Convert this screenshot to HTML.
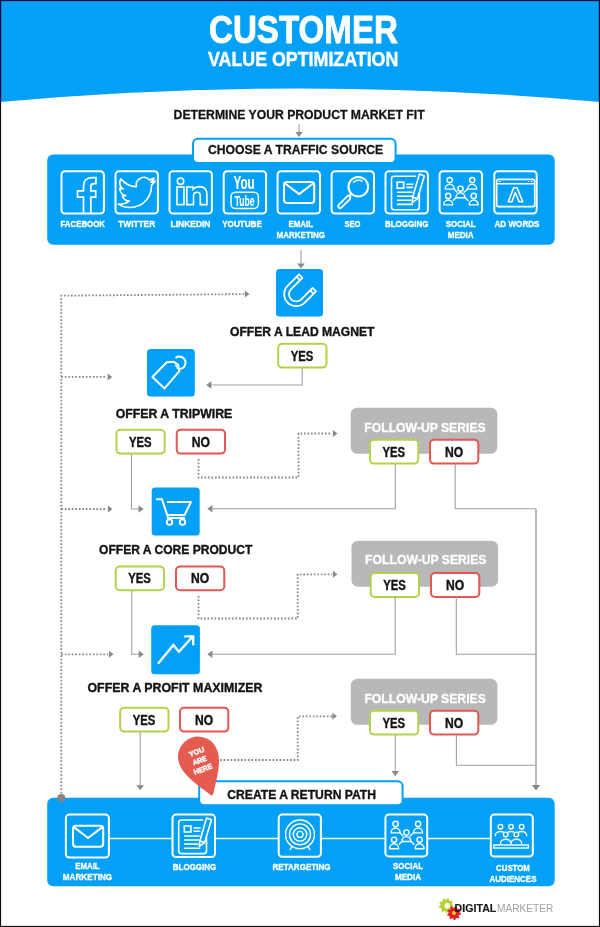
<!DOCTYPE html>
<html lang="en"><head><meta charset="utf-8"><title>Customer Value Optimization</title>
<style>html,body{margin:0;padding:0;background:#fff}svg{display:block;will-change:transform}text{font-family:"Liberation Sans",sans-serif}</style>
</head><body>
<svg width="600" height="927" viewBox="0 0 600 927">
<rect width="600" height="927" fill="#fff"/>
<path d="M0,0 H600 V102 Q300,75 0,102 Z" fill="#03a0f8"/>
<text x="209.0" y="43.3" font-size="38.8" font-weight="bold" fill="#fff" textLength="189.0" lengthAdjust="spacingAndGlyphs" stroke="#fff" stroke-width="0.9" stroke-linejoin="round">CUSTOMER</text>
<text x="208.0" y="65.5" font-size="19.6" font-weight="bold" fill="#fff" textLength="190.3" lengthAdjust="spacingAndGlyphs" stroke="#fff" stroke-width="0.45" stroke-linejoin="round">VALUE OPTIMIZATION</text>
<text x="173.6" y="118.5" font-size="13.3" font-weight="bold" fill="#141414" textLength="251.0" lengthAdjust="spacingAndGlyphs" stroke="#141414" stroke-width="0.3" stroke-linejoin="round">DETERMINE YOUR PRODUCT MARKET FIT</text>
<path d="M299,124 V132" fill="none" stroke="#a0a0a0" stroke-width="1.1"/>
<polygon points="299.0,137.0 295.4,132.1 302.6,132.1" fill="#8a8a8a"/>
<rect x="47.2" y="154.5" width="507.5" height="90.2" rx="6" fill="#03a0f8"/>
<rect x="193" y="138.8" width="202.6" height="24.2" rx="5" fill="#fff" stroke="#03a0f8" stroke-width="2"/>
<text x="208.0" y="154.3" font-size="13.4" font-weight="bold" fill="#141414" textLength="175.2" lengthAdjust="spacingAndGlyphs" stroke="#141414" stroke-width="0.3" stroke-linejoin="round">CHOOSE A TRAFFIC SOURCE</text>
<rect x="61.50" y="171.20" width="42.40" height="42.40" rx="3.5" fill="none" stroke="#fff" stroke-width="2"/>
<rect x="115.50" y="171.20" width="42.40" height="42.40" rx="3.5" fill="none" stroke="#fff" stroke-width="2"/>
<rect x="169.50" y="171.20" width="42.40" height="42.40" rx="3.5" fill="none" stroke="#fff" stroke-width="2"/>
<rect x="223.70" y="171.20" width="42.40" height="42.40" rx="3.5" fill="none" stroke="#fff" stroke-width="2"/>
<rect x="277.60" y="171.20" width="42.40" height="42.40" rx="3.5" fill="none" stroke="#fff" stroke-width="2"/>
<rect x="331.60" y="171.20" width="42.40" height="42.40" rx="3.5" fill="none" stroke="#fff" stroke-width="2"/>
<rect x="385.50" y="171.20" width="42.40" height="42.40" rx="3.5" fill="none" stroke="#fff" stroke-width="2"/>
<rect x="439.60" y="171.20" width="42.40" height="42.40" rx="3.5" fill="none" stroke="#fff" stroke-width="2"/>
<rect x="494.30" y="171.20" width="42.40" height="42.40" rx="3.5" fill="none" stroke="#fff" stroke-width="2"/>
<g transform="translate(60.5,170.2)" fill="none" stroke="#fff" stroke-width="1.7"><path d="M30.3,43.5 V27 H35.2 V20.7 H30.3 V17 Q30.3,13.5 33.3,13.5 H35.4 V7.5 H31.5 Q23,7.5 23,16.5 V20.7 H17 V27 H23 V43.5"/></g>
<g transform="translate(118.3,174) scale(1.54)" fill="none" stroke="#fff" stroke-width="1.05" stroke-linejoin="round"><path d="M23.953 4.57a10 10 0 01-2.825.775 4.958 4.958 0 002.163-2.723c-.951.555-2.005.959-3.127 1.184a4.92 4.92 0 00-8.384 4.482C7.69 8.095 4.067 6.13 1.64 3.162a4.822 4.822 0 00-.666 2.475c0 1.71.87 3.213 2.188 4.096a4.904 4.904 0 01-2.228-.616v.06a4.923 4.923 0 003.946 4.827 4.996 4.996 0 01-2.212.085 4.936 4.936 0 004.604 3.417 9.867 9.867 0 01-6.102 2.105c-.39 0-.779-.023-1.17-.067a13.995 13.995 0 007.557 2.209c9.053 0 13.998-7.496 13.998-13.985 0-.21 0-.42-.015-.63A9.935 9.935 0 0024 4.59z"/></g>
<g transform="translate(168.5,170.2)" fill="none" stroke="#fff" stroke-width="1.6"><circle cx="12" cy="11" r="3.2"/><rect x="8.5" y="16.8" width="7" height="17.6"/><path d="M18.3,34.4 V16.8 H24.6 V19 Q27,16.4 31,16.4 Q38.4,16.4 38.4,24.5 V34.4 H31.8 V25.5 Q31.8,22 28.5,22 Q25,22 25,25.5 V34.4 Z"/></g>
<g transform="translate(222.7,170.2)">
<text x="10.8" y="18.8" font-size="18" font-weight="bold" fill="#fff" textLength="21.2" lengthAdjust="spacingAndGlyphs" stroke="#fff" stroke-width="0.15" stroke-linejoin="round">You</text>
<rect x="8.3" y="22" width="27.4" height="16.3" rx="4.5" fill="none" stroke="#fff" stroke-width="1.4"/>
<text x="12.0" y="35.7" font-size="14.2" font-weight="bold" fill="#fff" textLength="19.8" lengthAdjust="spacingAndGlyphs" stroke="#fff" stroke-width="0.15" stroke-linejoin="round">Tube</text>
</g>
<g transform="translate(276.6,170.2)">
<rect x="7.4" y="11.8" width="30.2" height="21" rx="3" fill="none" stroke="#fff" stroke-width="2.1"/><path d="M9.2,13.8 L22.5,24 L35.8,13.8" fill="none" stroke="#fff" stroke-width="2.1" stroke-linejoin="round" stroke-linecap="round"/>
</g>
<g transform="translate(330.6,170.2)" fill="none" stroke="#fff" stroke-width="2"><circle cx="27.7" cy="16.5" r="9.8"/><path d="M23,12 A6.6,6.6 0 0 1 31.4,11" stroke-width="1.4" stroke-linecap="round"/><path d="M20.7,23.5 L18.6,25.8" stroke-width="2.4"/><path d="M16.66,26.16 L8.06,34.76 A1.9,1.9 0 0 0 10.74,37.44 L19.34,28.84 A1.9,1.9 0 0 0 16.66,26.16 Z" stroke-width="1.8"/></g>
<g transform="translate(384.5,170.2)">
<g fill="none" stroke="#fff" stroke-width="1.6"><path d="M31.6,6 H9.6 Q7,6 7,8.6 V37 Q7,39.6 9.6,39.6 H32.2 Q34.8,39.6 34.8,37 V23"/><rect x="12.6" y="12" width="6.6" height="6"/><path d="M21.8,14 H29 M21.8,17.2 H28.6 M12.4,22 H28 M12.4,26 H27.4 M12.4,30.1 H26.6 M12.4,34.2 H28.6"/><path d="M34.9,3.9 L39.8,5.7 L32.9,28.6 L28.2,26.8 Z M28.2,26.8 L27.6,32.4 L32.9,28.6" stroke-linejoin="round"/></g>
</g>
<g transform="translate(438.6,170.2)">
<g fill="none" stroke="#fff" stroke-width="1.4" stroke-linejoin="round"><circle cx="11.1" cy="9.9" r="2.6"/><path d="M6.6,18.9 A4.5,4.9 0 0 1 15.6,18.9 Z"/><circle cx="33.6" cy="9.9" r="2.6"/><path d="M29.1,18.9 A4.5,4.9 0 0 1 38.1,18.9 Z"/><circle cx="21.9" cy="18.5" r="2.6"/><path d="M17.4,27.5 A4.5,4.9 0 0 1 26.4,27.5 Z"/><circle cx="9.6" cy="25.7" r="2.6"/><path d="M5.1,34.7 A4.5,4.9 0 0 1 14.1,34.7 Z"/><circle cx="35.1" cy="25.7" r="2.6"/><path d="M30.6,34.7 A4.5,4.9 0 0 1 39.6,34.7 Z"/><path d="M15.8,19 L18.8,22.4 M28.8,19 L25.2,22.4 M17.6,27.2 L14.4,30.6 M26.4,27.2 L29.8,30.8"/></g>
</g>
<g transform="translate(493.3,170.2)" fill="none" stroke="#fff" stroke-width="1.6"><rect x="3.4" y="9.2" width="38" height="27.2" rx="1.8"/><path d="M3.4,13.6 H41.4"/><path d="M5.6,11.3 H7.4 M34.5,11.3 H36 M37.6,11.3 H39.2" stroke-width="1"/><path d="M15,31.6 L20.4,17.6 H23.8 L29.4,31.6 H25.8 L22,22.4 L18.6,31.6 Z" stroke-linejoin="round"/></g>
<text x="60.4" y="227.2" font-size="9.4" font-weight="bold" fill="#fff" textLength="44.6" lengthAdjust="spacingAndGlyphs" stroke="#fff" stroke-width="0.35" stroke-linejoin="round">FACEBOOK</text>
<text x="118.2" y="227.2" font-size="9.4" font-weight="bold" fill="#fff" textLength="37.0" lengthAdjust="spacingAndGlyphs" stroke="#fff" stroke-width="0.35" stroke-linejoin="round">TWITTER</text>
<text x="170.5" y="227.2" font-size="9.4" font-weight="bold" fill="#fff" textLength="40.0" lengthAdjust="spacingAndGlyphs" stroke="#fff" stroke-width="0.35" stroke-linejoin="round">LINKEDIN</text>
<text x="222.2" y="227.2" font-size="9.4" font-weight="bold" fill="#fff" textLength="39.7" lengthAdjust="spacingAndGlyphs" stroke="#fff" stroke-width="0.35" stroke-linejoin="round">YOUTUBE</text>
<text x="288.4" y="227.2" font-size="9.4" font-weight="bold" fill="#fff" textLength="24.8" lengthAdjust="spacingAndGlyphs" stroke="#fff" stroke-width="0.35" stroke-linejoin="round">EMAIL</text>
<text x="276.5" y="237.6" font-size="9.4" font-weight="bold" fill="#fff" textLength="48.6" lengthAdjust="spacingAndGlyphs" stroke="#fff" stroke-width="0.35" stroke-linejoin="round">MARKETING</text>
<text x="344.5" y="227.2" font-size="9.4" font-weight="bold" fill="#fff" textLength="16.0" lengthAdjust="spacingAndGlyphs" stroke="#fff" stroke-width="0.35" stroke-linejoin="round">SEO</text>
<text x="384.9" y="227.2" font-size="9.4" font-weight="bold" fill="#fff" textLength="43.5" lengthAdjust="spacingAndGlyphs" stroke="#fff" stroke-width="0.35" stroke-linejoin="round">BLOGGING</text>
<text x="445.7" y="227.2" font-size="9.4" font-weight="bold" fill="#fff" textLength="30.0" lengthAdjust="spacingAndGlyphs" stroke="#fff" stroke-width="0.35" stroke-linejoin="round">SOCIAL</text>
<text x="447.7" y="237.6" font-size="9.4" font-weight="bold" fill="#fff" textLength="26.0" lengthAdjust="spacingAndGlyphs" stroke="#fff" stroke-width="0.35" stroke-linejoin="round">MEDIA</text>
<text x="494.5" y="227.2" font-size="9.4" font-weight="bold" fill="#fff" textLength="45.0" lengthAdjust="spacingAndGlyphs" stroke="#fff" stroke-width="0.35" stroke-linejoin="round">AD WORDS</text>
<path d="M301,250 V264" fill="none" stroke="#a0a0a0" stroke-width="1.1"/>
<polygon points="301.0,268.5 297.2,263.4 304.8,263.4" fill="#8a8a8a"/>
<path d="M61.3,797 V295.7 L244,294.1" fill="none" stroke="#8a8a8a" stroke-width="1.8" stroke-dasharray="1.7 1.8"/>
<polygon points="249.5,294.1 244.8,290.6 244.8,297.6" fill="#8a8a8a"/>
<path d="M61.3,376.9 H107" fill="none" stroke="#8a8a8a" stroke-width="1.8" stroke-dasharray="1.7 1.8"/>
<polygon points="112.3,376.9 107.6,373.4 107.6,380.4" fill="#8a8a8a"/>
<path d="M61.3,509 H107" fill="none" stroke="#8a8a8a" stroke-width="1.8" stroke-dasharray="1.7 1.8"/>
<polygon points="112.6,509.0 107.9,505.5 107.9,512.5" fill="#8a8a8a"/>
<path d="M61.3,654.3 H108" fill="none" stroke="#8a8a8a" stroke-width="1.8" stroke-dasharray="1.7 1.8"/>
<polygon points="113.6,654.3 108.9,650.8 108.9,657.8" fill="#8a8a8a"/>
<rect x="276" y="269" width="47" height="47.5" rx="3.5" fill="#03a0f8"/>
<g transform="translate(296.2,294.2) rotate(45)" fill="none" stroke="#fff" stroke-width="1.8" stroke-linejoin="round"><path d="M-12,-16 V0 A12,12 0 0 0 12,0 V-16 H7.2 V0 A7.2,7.2 0 0 1 -7.2,0 V-16 Z"/><path d="M-12,-12.6 H-7.2 M7.2,-12.6 H12"/></g>
<text x="230.0" y="336.0" font-size="13.4" font-weight="bold" fill="#141414" textLength="144.5" lengthAdjust="spacingAndGlyphs" stroke="#141414" stroke-width="0.4" stroke-linejoin="round">OFFER A LEAD MAGNET</text>
<rect x="278.2" y="343.8" width="48.3" height="23.8" rx="4" fill="#fff" stroke="#b2d24a" stroke-width="2"/>
<text x="290.7" y="360.6" font-size="13.8" font-weight="bold" fill="#141414" textLength="22.6" lengthAdjust="spacingAndGlyphs" stroke="#141414" stroke-width="0.4" stroke-linejoin="round">YES</text>
<path d="M302.2,368 V385 H210" fill="none" stroke="#a0a0a0" stroke-width="1.1"/>
<polygon points="206.2,385.0 211.3,381.2 211.3,388.8" fill="#8a8a8a"/>
<rect x="147" y="349" width="47.8" height="47.6" rx="3.5" fill="#03a0f8"/>
<g transform="translate(147,349)" fill="none" stroke="#fff" stroke-width="2" stroke-linejoin="round" stroke-linecap="round"><path d="M5.4,28 L17.6,39.4 L32.3,22.2 L31,15.6 L26.8,12.8 L19.8,13.3 Z"/><path d="M29.2,8.4 A6.2,6.2 0 1 1 32.2,19.9"/><path d="M28.6,16.4 Q30.4,17.6 30.4,19.6" stroke-width="1.3"/></g>
<text x="115.7" y="417.8" font-size="13.4" font-weight="bold" fill="#141414" textLength="116.6" lengthAdjust="spacingAndGlyphs" stroke="#141414" stroke-width="0.4" stroke-linejoin="round">OFFER A TRIPWIRE</text>
<rect x="116.4" y="429.8" width="48.3" height="23.8" rx="4" fill="#fff" stroke="#b2d24a" stroke-width="2"/>
<text x="128.9" y="446.6" font-size="13.8" font-weight="bold" fill="#141414" textLength="22.6" lengthAdjust="spacingAndGlyphs" stroke="#141414" stroke-width="0.4" stroke-linejoin="round">YES</text>
<rect x="176.7" y="429.8" width="48.3" height="23.8" rx="4" fill="#fff" stroke="#e35652" stroke-width="2"/>
<text x="191.8" y="446.6" font-size="13.8" font-weight="bold" fill="#141414" textLength="18.2" lengthAdjust="spacingAndGlyphs" stroke="#141414" stroke-width="0.4" stroke-linejoin="round">NO</text>
<path d="M131.4,454 V509 H139" fill="none" stroke="#a0a0a0" stroke-width="1.1"/>
<polygon points="143.6,509.0 138.5,505.2 138.5,512.8" fill="#8a8a8a"/>
<path d="M198.5,459 V477.5 H298.5 V433.5 H332" fill="none" stroke="#8a8a8a" stroke-width="1.8" stroke-dasharray="1.7 1.8"/>
<polygon points="337.5,433.5 332.8,430.0 332.8,437.0" fill="#8a8a8a"/>
<rect x="350.7" y="407.7" width="146.6" height="46" rx="6.5" fill="#b8b8b8"/>
<text x="364.3" y="431.7" font-size="12.8" font-weight="bold" fill="#fff" textLength="121.4" lengthAdjust="spacingAndGlyphs" stroke="#fff" stroke-width="0.3" stroke-linejoin="round">FOLLOW-UP SERIES</text>
<rect x="370.0" y="439.8" width="48.3" height="23.8" rx="4" fill="#fff" stroke="#b2d24a" stroke-width="2"/>
<text x="382.5" y="456.6" font-size="13.8" font-weight="bold" fill="#141414" textLength="22.6" lengthAdjust="spacingAndGlyphs" stroke="#141414" stroke-width="0.4" stroke-linejoin="round">YES</text>
<rect x="430.0" y="439.8" width="48.3" height="23.8" rx="4" fill="#fff" stroke="#e35652" stroke-width="2"/>
<text x="445.0" y="456.6" font-size="13.8" font-weight="bold" fill="#141414" textLength="18.2" lengthAdjust="spacingAndGlyphs" stroke="#141414" stroke-width="0.4" stroke-linejoin="round">NO</text>
<path d="M395.3,464 V508.7 H211" fill="none" stroke="#a0a0a0" stroke-width="1.1"/>
<polygon points="207.3,508.7 212.4,504.9 212.4,512.5" fill="#8a8a8a"/>
<path d="M455.2,464 V508.7 H536" fill="none" stroke="#a0a0a0" stroke-width="1.1"/>
<path d="M536,508.7 V786" fill="none" stroke="#929292" stroke-width="1.3"/>
<polygon points="536.0,790.6 531.9,785.1 540.1,785.1" fill="#8a8a8a"/>
<rect x="151.7" y="487.5" width="48" height="48" rx="3.5" fill="#03a0f8"/>
<g transform="translate(151.7,487.5)" fill="none" stroke="#fff" stroke-width="2" stroke-linejoin="round"><path d="M4.2,11.7 H10.3 L16.4,30.4 H33.2"/><path d="M15.2,14.6 H39.2 L33,27.4 H15.6"/><circle cx="17.8" cy="34.6" r="2.8" stroke-width="1.8"/><circle cx="30.8" cy="34.6" r="2.8" stroke-width="1.8"/></g>
<text x="99.0" y="554.3" font-size="13.4" font-weight="bold" fill="#141414" textLength="153.3" lengthAdjust="spacingAndGlyphs" stroke="#141414" stroke-width="0.4" stroke-linejoin="round">OFFER A CORE PRODUCT</text>
<rect x="115.7" y="566.5" width="48.3" height="23.8" rx="4" fill="#fff" stroke="#b2d24a" stroke-width="2"/>
<text x="128.2" y="583.3" font-size="13.8" font-weight="bold" fill="#141414" textLength="22.6" lengthAdjust="spacingAndGlyphs" stroke="#141414" stroke-width="0.4" stroke-linejoin="round">YES</text>
<rect x="176.0" y="566.5" width="48.3" height="23.8" rx="4" fill="#fff" stroke="#e35652" stroke-width="2"/>
<text x="191.1" y="583.3" font-size="13.8" font-weight="bold" fill="#141414" textLength="18.2" lengthAdjust="spacingAndGlyphs" stroke="#141414" stroke-width="0.4" stroke-linejoin="round">NO</text>
<path d="M131.8,590.7 V654.3 H139" fill="none" stroke="#a0a0a0" stroke-width="1.1"/>
<polygon points="143.8,654.3 138.7,650.5 138.7,658.1" fill="#8a8a8a"/>
<path d="M198.5,596 V618.5 H297.7 V574.3 H332" fill="none" stroke="#8a8a8a" stroke-width="1.8" stroke-dasharray="1.7 1.8"/>
<polygon points="337.5,574.3 332.8,570.8 332.8,577.8" fill="#8a8a8a"/>
<rect x="351.5" y="540.7" width="146.6" height="46" rx="6.5" fill="#b8b8b8"/>
<text x="365.1" y="564.4" font-size="12.8" font-weight="bold" fill="#fff" textLength="121.4" lengthAdjust="spacingAndGlyphs" stroke="#fff" stroke-width="0.3" stroke-linejoin="round">FOLLOW-UP SERIES</text>
<rect x="370.7" y="573.1" width="48.3" height="23.8" rx="4" fill="#fff" stroke="#b2d24a" stroke-width="2"/>
<text x="383.2" y="589.9" font-size="13.8" font-weight="bold" fill="#141414" textLength="22.6" lengthAdjust="spacingAndGlyphs" stroke="#141414" stroke-width="0.4" stroke-linejoin="round">YES</text>
<rect x="431.0" y="573.1" width="48.3" height="23.8" rx="4" fill="#fff" stroke="#e35652" stroke-width="2"/>
<text x="446.0" y="589.9" font-size="13.8" font-weight="bold" fill="#141414" textLength="18.2" lengthAdjust="spacingAndGlyphs" stroke="#141414" stroke-width="0.4" stroke-linejoin="round">NO</text>
<path d="M395.2,597 V654.2 H211" fill="none" stroke="#a0a0a0" stroke-width="1.1"/>
<polygon points="207.3,654.2 212.4,650.4 212.4,658.0" fill="#8a8a8a"/>
<path d="M456.3,597 V654.2 H536" fill="none" stroke="#a0a0a0" stroke-width="1.1"/>
<rect x="151.2" y="625.3" width="48.7" height="49" rx="3.5" fill="#03a0f8"/>
<g transform="translate(151.2,625.3)" fill="none" stroke="#fff" stroke-width="2.3"><path d="M6.7,38.5 L22.2,19.8 L27.7,26.5 L41.6,11.2"/><path d="M33,11 H42 V20"/></g>
<text x="87.5" y="691.6" font-size="13.4" font-weight="bold" fill="#141414" textLength="175.0" lengthAdjust="spacingAndGlyphs" stroke="#141414" stroke-width="0.4" stroke-linejoin="round">OFFER A PROFIT MAXIMIZER</text>
<rect x="120.2" y="707.8" width="48.3" height="23.8" rx="4" fill="#fff" stroke="#b2d24a" stroke-width="2"/>
<text x="132.7" y="724.6" font-size="13.8" font-weight="bold" fill="#141414" textLength="22.6" lengthAdjust="spacingAndGlyphs" stroke="#141414" stroke-width="0.4" stroke-linejoin="round">YES</text>
<rect x="180.0" y="707.8" width="48.3" height="23.8" rx="4" fill="#fff" stroke="#e35652" stroke-width="2"/>
<text x="195.1" y="724.6" font-size="13.8" font-weight="bold" fill="#141414" textLength="18.2" lengthAdjust="spacingAndGlyphs" stroke="#141414" stroke-width="0.4" stroke-linejoin="round">NO</text>
<path d="M140.2,732 V786" fill="none" stroke="#a0a0a0" stroke-width="1.1"/>
<polygon points="140.2,790.3 136.4,785.2 144.0,785.2" fill="#8a8a8a"/>
<path d="M220,760 H297.7 V716.3 H332" fill="none" stroke="#8a8a8a" stroke-width="1.8" stroke-dasharray="1.7 1.8"/>
<polygon points="337.0,716.3 332.3,712.8 332.3,719.8" fill="#8a8a8a"/>
<rect x="350.8" y="678.8" width="146.6" height="46" rx="6.5" fill="#b8b8b8"/>
<text x="364.4" y="703.2" font-size="12.8" font-weight="bold" fill="#fff" textLength="121.4" lengthAdjust="spacingAndGlyphs" stroke="#fff" stroke-width="0.3" stroke-linejoin="round">FOLLOW-UP SERIES</text>
<rect x="370.0" y="710.8" width="48.3" height="23.8" rx="4" fill="#fff" stroke="#b2d24a" stroke-width="2"/>
<text x="382.5" y="727.6" font-size="13.8" font-weight="bold" fill="#141414" textLength="22.6" lengthAdjust="spacingAndGlyphs" stroke="#141414" stroke-width="0.4" stroke-linejoin="round">YES</text>
<rect x="430.0" y="710.8" width="48.3" height="23.8" rx="4" fill="#fff" stroke="#e35652" stroke-width="2"/>
<text x="445.0" y="727.6" font-size="13.8" font-weight="bold" fill="#141414" textLength="18.2" lengthAdjust="spacingAndGlyphs" stroke="#141414" stroke-width="0.4" stroke-linejoin="round">NO</text>
<path d="M395.3,735 V772" fill="none" stroke="#a0a0a0" stroke-width="1.1"/>
<polygon points="395.3,776.2 391.5,771.1 399.1,771.1" fill="#8a8a8a"/>
<path d="M456.4,735 V765.2 H536" fill="none" stroke="#a0a0a0" stroke-width="1.1"/>
<rect x="47.2" y="797.8" width="507.5" height="88.5" rx="6" fill="#03a0f8"/>
<rect x="199.2" y="781.2" width="203.4" height="24" rx="5" fill="#fff" stroke="#03a0f8" stroke-width="2"/>
<text x="227.3" y="798.8" font-size="13.6" font-weight="bold" fill="#141414" textLength="148.7" lengthAdjust="spacingAndGlyphs" stroke="#141414" stroke-width="0.4" stroke-linejoin="round">CREATE A RETURN PATH</text>
<g transform="translate(198.2,756.8) rotate(-20)"><path d="M-20.2,0 A20.2,20.2 0 0 1 20.2,0 C20.2,13 10.4,26 1.6,39.8 Q0,42.2 -1.6,39.8 C-10.4,26 -20.2,13 -20.2,0 Z" fill="#e65b50"/>
<text x="-7.8" y="-2.7" font-size="7.4" font-weight="bold" fill="#fff" textLength="16.0" lengthAdjust="spacingAndGlyphs" stroke="#fff" stroke-width="0.4" stroke-linejoin="round">YOU</text>
<text x="-7.2" y="6.5" font-size="7.4" font-weight="bold" fill="#fff" textLength="14.4" lengthAdjust="spacingAndGlyphs" stroke="#fff" stroke-width="0.4" stroke-linejoin="round">ARE</text>
<text x="-9.4" y="15.8" font-size="7.4" font-weight="bold" fill="#fff" textLength="19.2" lengthAdjust="spacingAndGlyphs" stroke="#fff" stroke-width="0.4" stroke-linejoin="round">HERE</text>
</g>
<circle cx="61.3" cy="797.9" r="4" fill="#878380"/>
<path d="M109.6,838.4 H171.7 M215.7,838.4 H278 M321.8,838.4 H384.5 M428,838.4 H489.8" stroke="#fff" stroke-width="1.5" fill="none"/>
<rect x="65.90" y="814.60" width="43.00" height="43.00" rx="3.5" fill="none" stroke="#fff" stroke-width="2"/>
<rect x="172.50" y="814.60" width="42.50" height="42.50" rx="3.5" fill="none" stroke="#fff" stroke-width="2"/>
<rect x="278.70" y="814.60" width="42.20" height="42.20" rx="3.5" fill="none" stroke="#fff" stroke-width="2"/>
<rect x="385.40" y="814.60" width="41.80" height="41.80" rx="3.5" fill="none" stroke="#fff" stroke-width="2"/>
<rect x="490.80" y="814.60" width="42.00" height="42.00" rx="3.5" fill="none" stroke="#fff" stroke-width="2"/>
<g transform="translate(65.6,814)">
<rect x="7.4" y="11.8" width="30.2" height="21" rx="3" fill="none" stroke="#fff" stroke-width="2.1"/><path d="M9.2,13.8 L22.5,24 L35.8,13.8" fill="none" stroke="#fff" stroke-width="2.1" stroke-linejoin="round" stroke-linecap="round"/>
</g>
<g transform="translate(171.7,814)">
<g fill="none" stroke="#fff" stroke-width="1.6"><path d="M31.6,6 H9.6 Q7,6 7,8.6 V37 Q7,39.6 9.6,39.6 H32.2 Q34.8,39.6 34.8,37 V23"/><rect x="12.6" y="12" width="6.6" height="6"/><path d="M21.8,14 H29 M21.8,17.2 H28.6 M12.4,22 H28 M12.4,26 H27.4 M12.4,30.1 H26.6 M12.4,34.2 H28.6"/><path d="M34.9,3.9 L39.8,5.7 L32.9,28.6 L28.2,26.8 Z M28.2,26.8 L27.6,32.4 L32.9,28.6" stroke-linejoin="round"/></g>
</g>
<g transform="translate(278,814)" fill="none" stroke="#fff" stroke-width="1.4"><circle cx="22" cy="20.4" r="14.4"/><circle cx="22" cy="20.4" r="10.5"/><circle cx="22" cy="20.4" r="6.7"/><circle cx="22" cy="20.4" r="3"/><path d="M13.8,32.6 L12.2,35.8 M30.2,32.6 L31.8,35.8" stroke-linecap="round"/></g>
<g transform="translate(384.5,814)">
<g fill="none" stroke="#fff" stroke-width="1.4" stroke-linejoin="round"><circle cx="11.1" cy="9.9" r="2.6"/><path d="M6.6,18.9 A4.5,4.9 0 0 1 15.6,18.9 Z"/><circle cx="33.6" cy="9.9" r="2.6"/><path d="M29.1,18.9 A4.5,4.9 0 0 1 38.1,18.9 Z"/><circle cx="21.9" cy="18.5" r="2.6"/><path d="M17.4,27.5 A4.5,4.9 0 0 1 26.4,27.5 Z"/><circle cx="9.6" cy="25.7" r="2.6"/><path d="M5.1,34.7 A4.5,4.9 0 0 1 14.1,34.7 Z"/><circle cx="35.1" cy="25.7" r="2.6"/><path d="M30.6,34.7 A4.5,4.9 0 0 1 39.6,34.7 Z"/><path d="M15.8,19 L18.8,22.4 M28.8,19 L25.2,22.4 M17.6,27.2 L14.4,30.6 M26.4,27.2 L29.8,30.8"/></g>
</g>
<g transform="translate(489.8,814)" fill="none" stroke="#fff" stroke-width="1.4"><circle cx="10.6" cy="12.7" r="2.3"/><path d="M5.6,22.299999999999997 V21.1 A5.0,3.6 0 0 1 15.6,21.1 V22.299999999999997"/><circle cx="21.2" cy="12.7" r="2.3"/><path d="M16.2,22.299999999999997 V21.1 A5.0,3.6 0 0 1 26.2,21.1 V22.299999999999997"/><circle cx="31.8" cy="12.7" r="2.3"/><path d="M26.8,22.299999999999997 V21.1 A5.0,3.6 0 0 1 36.8,21.1 V22.299999999999997"/><g fill="#03a0f8"><circle cx="15.9" cy="20.4" r="2.3"/><path d="M10.7,30.0 V28.799999999999997 A5.2,3.6 0 0 1 21.1,28.799999999999997 V30.0"/><circle cx="26.6" cy="20.4" r="2.3"/><path d="M21.400000000000002,30.0 V28.799999999999997 A5.2,3.6 0 0 1 31.8,28.799999999999997 V30.0"/></g><rect x="4" y="31" width="34.6" height="3"/></g>
<text x="75.2" y="868.8" font-size="9.4" font-weight="bold" fill="#fff" textLength="24.5" lengthAdjust="spacingAndGlyphs" stroke="#fff" stroke-width="0.35" stroke-linejoin="round">EMAIL</text>
<text x="62.8" y="880.0" font-size="9.4" font-weight="bold" fill="#fff" textLength="49.4" lengthAdjust="spacingAndGlyphs" stroke="#fff" stroke-width="0.35" stroke-linejoin="round">MARKETING</text>
<text x="172.8" y="870.4" font-size="9.4" font-weight="bold" fill="#fff" textLength="43.5" lengthAdjust="spacingAndGlyphs" stroke="#fff" stroke-width="0.35" stroke-linejoin="round">BLOGGING</text>
<text x="272.5" y="870.4" font-size="9.4" font-weight="bold" fill="#fff" textLength="58.0" lengthAdjust="spacingAndGlyphs" stroke="#fff" stroke-width="0.35" stroke-linejoin="round">RETARGETING</text>
<text x="393.0" y="868.8" font-size="9.4" font-weight="bold" fill="#fff" textLength="30.0" lengthAdjust="spacingAndGlyphs" stroke="#fff" stroke-width="0.35" stroke-linejoin="round">SOCIAL</text>
<text x="395.0" y="880.2" font-size="9.4" font-weight="bold" fill="#fff" textLength="26.0" lengthAdjust="spacingAndGlyphs" stroke="#fff" stroke-width="0.35" stroke-linejoin="round">MEDIA</text>
<text x="496.1" y="870.8" font-size="9.4" font-weight="bold" fill="#fff" textLength="33.7" lengthAdjust="spacingAndGlyphs" stroke="#fff" stroke-width="0.35" stroke-linejoin="round">CUSTOM</text>
<text x="489.5" y="881.8" font-size="9.4" font-weight="bold" fill="#fff" textLength="47.0" lengthAdjust="spacingAndGlyphs" stroke="#fff" stroke-width="0.35" stroke-linejoin="round">AUDIENCES</text>
<polygon points="453.7,905.5 453.6,906.8 451.7,907.5 451.3,908.4 452.0,910.3 451.1,911.2 449.2,910.5 448.3,910.9 447.6,912.8 446.3,912.9 445.3,911.2 444.3,910.9 442.6,911.9 441.5,911.2 441.9,909.2 441.3,908.4 439.3,908.0 439.0,906.8 440.5,905.5 440.6,904.5 439.3,903.0 439.9,901.8 441.9,901.8 442.6,901.1 442.6,899.1 443.8,898.5 445.3,899.8 446.3,899.7 447.6,898.2 448.8,898.5 449.2,900.5 450.0,901.1 452.0,900.7 452.7,901.8 451.7,903.5 452.0,904.5" fill="#b3d334"/>
<circle cx="447.2" cy="905.8" r="2.7" fill="#fff"/>
<polygon points="461.0,913.2 460.9,914.4 459.1,915.1 458.7,915.9 459.4,917.7 458.5,918.6 456.7,917.9 455.9,918.3 455.2,920.1 454.0,920.2 453.1,918.6 452.1,918.3 450.5,919.3 449.5,918.6 449.8,916.7 449.3,915.9 447.4,915.6 447.1,914.4 448.5,913.2 448.6,912.3 447.4,910.8 447.9,909.7 449.8,909.7 450.5,909.0 450.5,907.1 451.6,906.6 453.1,907.8 454.0,907.7 455.2,906.3 456.4,906.6 456.7,908.5 457.5,909.0 459.4,908.7 460.1,909.7 459.1,911.3 459.4,912.3" fill="#e21f26"/>
<circle cx="454" cy="913" r="1.9" fill="#f5d21f"/>
<text x="454.6" y="911.8" font-size="11.3" font-weight="bold" fill="#1a1a1a" textLength="41.7" lengthAdjust="spacingAndGlyphs" stroke="#1a1a1a" stroke-width="0.2" stroke-linejoin="round">DIGITAL</text>
<text x="497.0" y="911.8" font-size="11.3" font-weight="normal" fill="#a4a4a4" textLength="56.2" lengthAdjust="spacingAndGlyphs">MARKETER</text>
<rect x="0" y="0" width="600" height="927" fill="none" stroke="#101010" stroke-width="2.2"/>
<path d="M0,0.55 H600 M0.55,0 V102 M599.45,0 V102" fill="none" stroke="#020a3c" stroke-width="1.1"/>
</svg></body></html>
